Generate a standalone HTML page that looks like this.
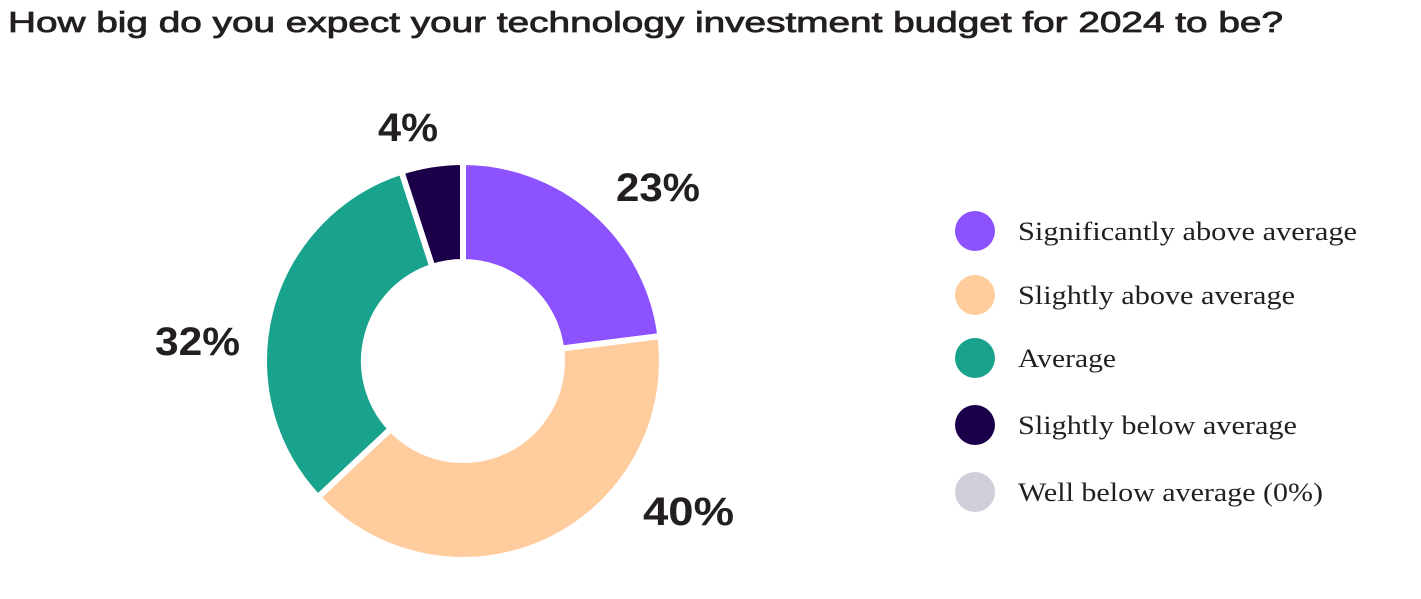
<!DOCTYPE html>
<html><head><meta charset="utf-8"><style>
html,body{margin:0;padding:0;background:#fff;}
body{width:1421px;height:594px;overflow:hidden;}
</style></head><body>
<svg width="1421" height="594" xmlns="http://www.w3.org/2000/svg">
<text x="8" y="32" font-family="Liberation Sans, sans-serif" font-size="29" fill="#231f20" stroke="#231f20" stroke-width="0.8" textLength="1275" lengthAdjust="spacingAndGlyphs">How big do you expect your technology investment budget for 2024 to be?</text>
<g stroke="#fff" stroke-width="6" stroke-linejoin="miter">
<path d="M463,162 A199,199 0 0 1 660.4,336.1 L561.2,348.6 A99,99 0 0 0 463,262 Z" fill="#8c52ff"/>
<path d="M660.4,336.1 A199,199 0 0 1 317.9,497.2 L390.8,428.8 A99,99 0 0 0 561.2,348.6 Z" fill="#ffcc9e"/>
<path d="M317.9,497.2 A199,199 0 0 1 401.5,171.7 L432.4,266.8 A99,99 0 0 0 390.8,428.8 Z" fill="#1aa38c"/>
<path d="M401.5,171.7 A199,199 0 0 1 463,162 L463,262 A99,99 0 0 0 432.4,266.8 Z" fill="#1b0049"/>
</g>
<g font-family="Liberation Sans, sans-serif" font-size="40" font-weight="bold" fill="#231f20">
<text x="378" y="141" textLength="60" lengthAdjust="spacingAndGlyphs">4%</text>
<text x="616" y="201" textLength="84" lengthAdjust="spacingAndGlyphs">23%</text>
<text x="155" y="355" textLength="85" lengthAdjust="spacingAndGlyphs">32%</text>
<text x="643" y="525" textLength="91" lengthAdjust="spacingAndGlyphs">40%</text>
</g>
<circle cx="975" cy="231" r="20" fill="#8c52ff"/>
<circle cx="975" cy="295" r="20" fill="#ffcc9e"/>
<circle cx="975" cy="358" r="20" fill="#1aa38c"/>
<circle cx="975" cy="425" r="20" fill="#1b0049"/>
<circle cx="975" cy="492" r="20" fill="#d0ced9"/>
<g font-family="Liberation Serif, serif" font-size="26" fill="#231f20">
<text x="1018" y="240" textLength="339" lengthAdjust="spacingAndGlyphs">Significantly above average</text>
<text x="1018" y="304" textLength="277" lengthAdjust="spacingAndGlyphs">Slightly above average</text>
<text x="1018" y="367" textLength="98" lengthAdjust="spacingAndGlyphs">Average</text>
<text x="1018" y="434" textLength="279" lengthAdjust="spacingAndGlyphs">Slightly below average</text>
<text x="1018" y="501" textLength="305" lengthAdjust="spacingAndGlyphs">Well below average (0%)</text>
</g>
</svg>
</body></html>
